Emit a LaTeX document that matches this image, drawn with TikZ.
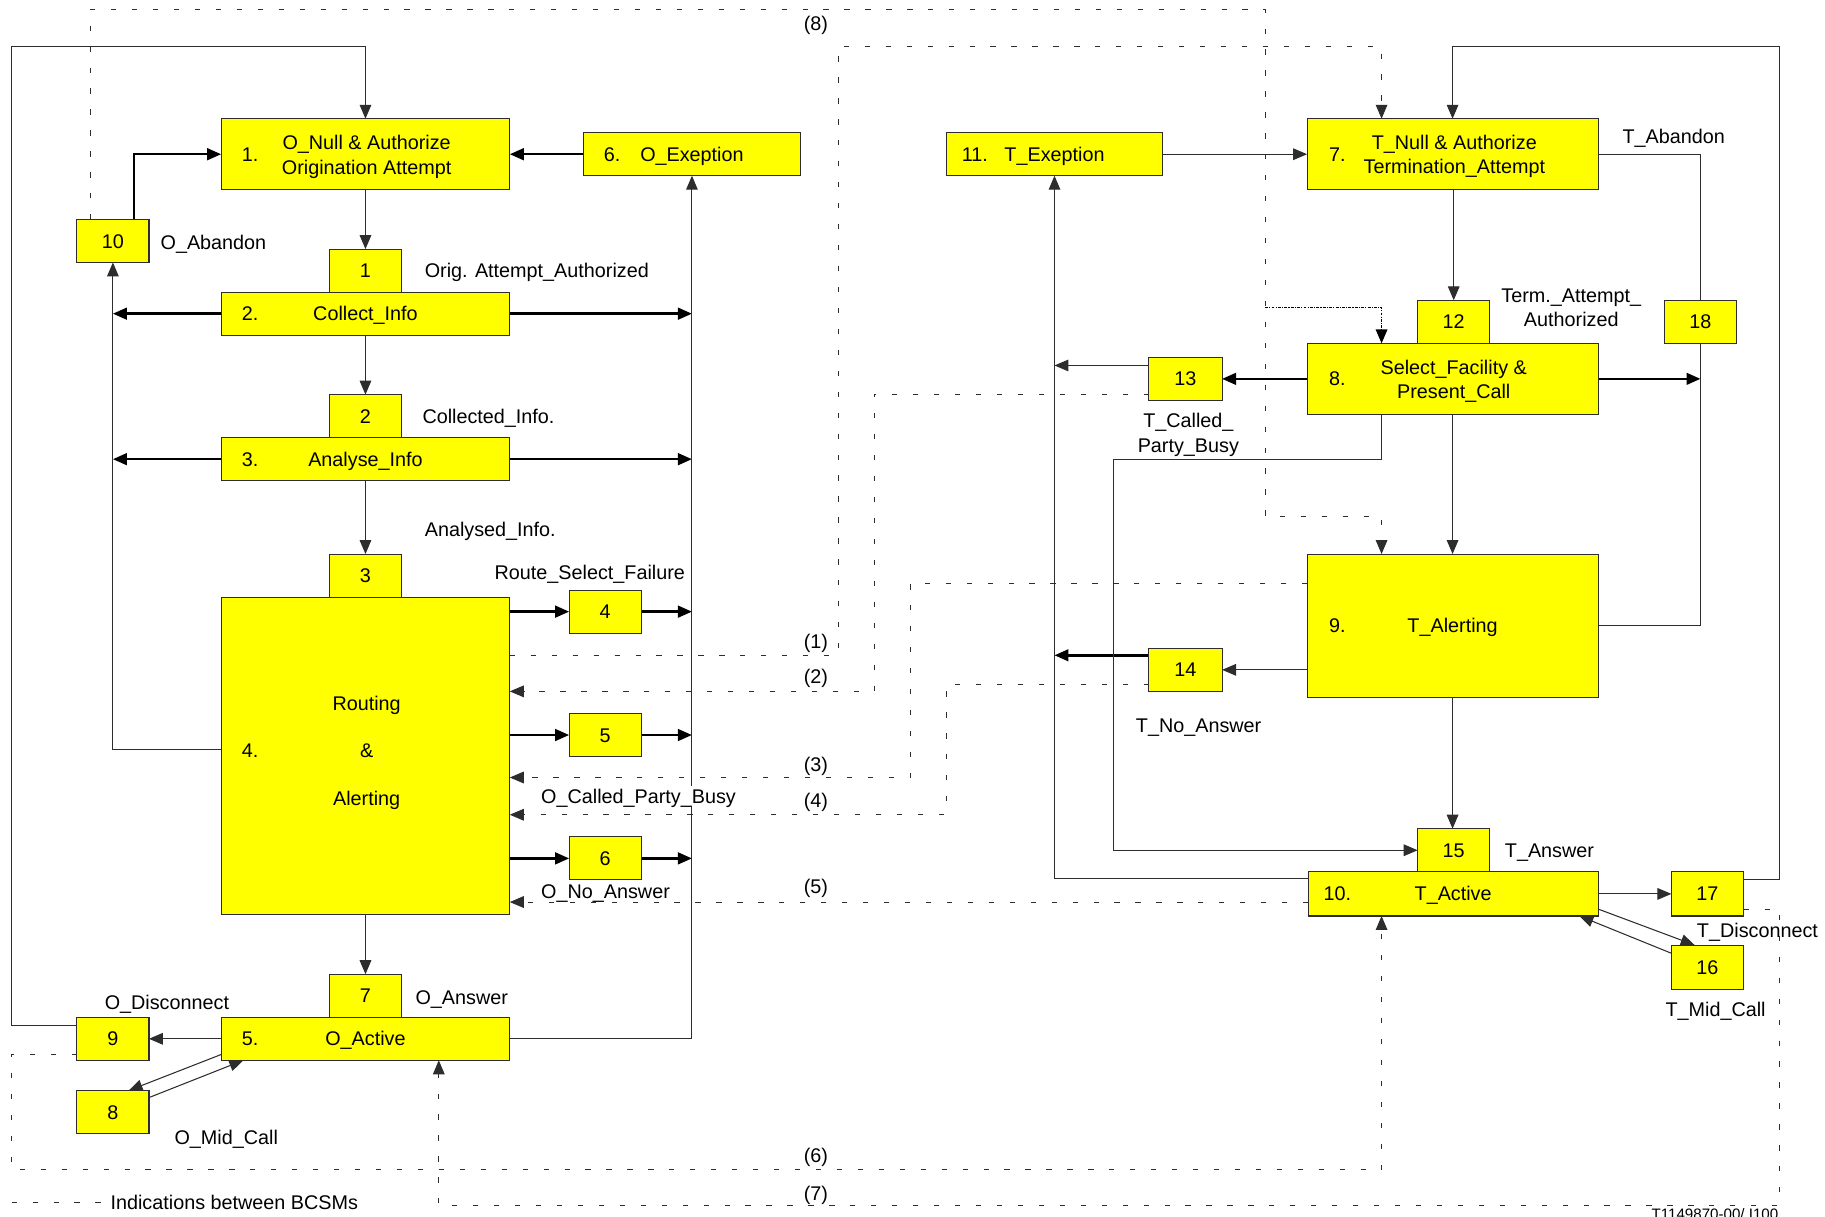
\documentclass[tikz,border=0pt]{standalone}
\usepackage{fontspec}
\setmainfont{Liberation Sans}
\usetikzlibrary{arrows.meta,backgrounds}
\definecolor{byel}{RGB}{255,255,0}
\definecolor{lgr}{RGB}{45,45,45}
\begin{document}
\begin{tikzpicture}[x=1pt,y=-1pt,
 every node/.style={font=\fontsize{17}{21}\selectfont,inner sep=0pt,outer sep=0pt},
 st/.style={text height=12.2pt,text depth=0pt},
 ybox/.style={draw=lgr,line width=0.9pt,fill=byel},
 big/.style={ybox,minimum width=248pt},
 rbig/.style={ybox,minimum width=250pt},
 sb/.style={ybox,st,minimum width=62pt,minimum height=37pt},
 conn/.style={draw=lgr,line width=0.9pt},
 heavy/.style={draw=black,line width=2.1pt},
 arr/.style={-{Triangle[length=12pt,width=10pt]}},
 dsh/.style={draw=lgr,line width=0.8pt,dash pattern=on 4.5pt off 13.5pt},
 ddot/.style={draw=black,line width=1.1pt,dash pattern=on 2.5pt off 1pt on 1pt off 1pt},
 lbl/.style={st,anchor=west},
]
\useasboundingbox (0,0) rectangle (1568,1045);

% ---------- O-BCSM ----------
\node[big,minimum height=61pt] (onull) at (314,132.5) {};
\node[align=center] (onullT) at (315,134.7) {O\_Null \& Authorize\\Origination Attempt};
\node[st] (onullN) at (215,132.5) {1.};
\node[ybox,st,minimum width=187pt,minimum height=37pt] (oexc) at (594.5,132.5) {O\_Exeption};
\node[st] (oexcN) at (526,132.5) {6.};
\node[sb] (b10) at (97,207) {10};
\node[sb] (s1) at (314,232.5) {1};
\node[big,st,minimum height=37pt] (collect) at (314,269.5) {Collect\_Info};
\node[st] (collectN) at (215,269.5) {2.};
\node[sb] (s2) at (314,357.5) {2};
\node[big,st,minimum height=37pt] (analyse) at (314,394.5) {Analyse\_Info};
\node[st] (analyseN) at (215,394.5) {3.};
\node[sb] (s3) at (314,494.5) {3};
\node[big,minimum height=273pt] (routing) at (314,649.5) {};
\node[st] (routingN) at (215,645) {4.};
\node[st] (routingA) at (315,604) {Routing};
\node[st] (routingB) at (315,645) {\&};
\node[st] (routingC) at (315,686) {Alerting};
\node[sb] (b4) at (520,525.5) {4};
\node[sb] (b5) at (520,631.5) {5};
\node[sb] (b6) at (520,737.5) {6};
\node[sb] (s7) at (314,855.5) {7};
\node[big,st,minimum height=37pt] (oactive) at (314,892.5) {O\_Active};
\node[st] (oactiveN) at (215,892.5) {5.};
\node[sb] (b9) at (97,892.5) {9};
\node[sb] (b8) at (97,955.5) {8};

% ---------- T-BCSM ----------
\node[ybox,st,minimum width=186pt,minimum height=37pt] (texc) at (906,132.5) {T\_Exeption};
\node[st] (texcN) at (837.5,132.5) {11.};
\node[rbig,minimum height=61pt] (tnull) at (1248,132.5) {};
\node[align=center] (tnullT) at (1249.5,134.5) {T\_Null \& Authorize\\Termination\_Attempt};
\node[st] (tnullN) at (1149,132.5) {7.};
\node[sb] (b12) at (1249,276.5) {12};
\node[sb] (b18) at (1461,276.5) {18};
\node[rbig,minimum height=61pt] (select) at (1248,325.5) {};
\node[align=center] (selectT) at (1249,327.5) {Select\_Facility \&\\Present\_Call};
\node[st] (selectN) at (1149,325.5) {8.};
\node[sb,minimum width=63pt] (b13) at (1018.5,325.5) {13};
\node[rbig,st,minimum height=123pt] (talert) at (1248,537.5) {T\_Alerting};
\node[st] (talertN) at (1149,537.5) {9.};
\node[sb,minimum width=63pt] (b14) at (1018.5,575.5) {14};
\node[sb] (b15) at (1249,730.5) {15};
\node[ybox,st,minimum width=249pt,minimum height=38pt] (tactive) at (1248.5,768) {T\_Active};
\node[st] (tactiveN) at (1149,768) {10.};
\node[sb,minimum height=38pt] (b17) at (1467,768) {17};
\node[sb,minimum height=38pt] (b16) at (1467,831) {16};

% ---------- labels ----------
\node[lbl] (lOAb) at (138,208) {O\_Abandon};
\node[lbl] (lOrig) at (365,232) {Orig. Attempt\_Authorized};
\node[lbl] (lColl) at (363,357.5) {Collected\_Info.};
\node[lbl] (lAnal) at (365,455) {Analysed\_Info.};
\node[lbl] (lRSF) at (425,492) {Route\_Select\_Failure};
\node[lbl,fill=white,inner ysep=3pt] (lOCPB) at (465,684) {O\_Called\_Party\_Busy};
\node[lbl] (lONA) at (465,766) {O\_No\_Answer};
\node[lbl] (lOAns) at (357,857) {O\_Answer};
\node[lbl] (lODis) at (90,861) {O\_Disconnect};
\node[lbl] (lOMid) at (150,977) {O\_Mid\_Call};
\node[lbl] (legend) at (95,1033) {Indications between BCSMs};
\node[lbl] (lTAb) at (1394,117) {T\_Abandon};
\node[align=center] (lTerm) at (1350,264.2) {Term.\_Attempt\_\\Authorized};
\node[align=center] (lTCPB) at (1021,373.7) {T\_Called\_\\Party\_Busy};
\node[lbl] (lTNA) at (976,623) {T\_No\_Answer};
\node[lbl] (lTAns) at (1293,730.5) {T\_Answer};
\node[lbl] (lTDis) at (1458,799.5) {T\_Disconnect};
\node[lbl] (lTMid) at (1431,867) {T\_Mid\_Call};
\node[st] (n8) at (701,20) {(8)};
\node[st] (n1) at (701,551) {(1)};
\node[st] (n2) at (701,581.5) {(2)};
\node[st] (n3) at (701,657) {(3)};
\node[st] (n4) at (701,687.5) {(4)};
\node[st] (n5) at (701,761.5) {(5)};
\node[st] (n6) at (701,993) {(6)};
\node[st] (n7) at (701,1025) {(7)};
\node[anchor=base west,font=\fontsize{13}{13}\selectfont] (fignum) at (1419,1048) {T1149870-00/ I100};

\coordinate (lbus) at (97,0);
\coordinate (rbus) at (594.5,0);
\coordinate (tbus) at (906,0);
\coordinate (lgA) at (10,1033);

\begin{pgfonlayer}{background}
\fill[white] (0,0) rectangle (1568,1045);
% O-BCSM solid
\draw[conn,arr] (b9.west |- 0,881) -- (10,881) -- (10,40) -- (onull.north |- 0,40) -- (onull.north);
\draw[heavy,arr] (b10.north -| 115,0) |- (onull.west);
\draw[heavy,arr] (oexc.west) -- (onull.east);
\draw[conn,arr] (onull.south) -- (s1.north);
\draw[conn,arr] (collect.south) -- (s2.north);
\draw[conn,arr] (analyse.south) -- (s3.north);
\draw[conn,arr] (routing.south) -- (s7.north);
\draw[heavy,arr] (collect.west) -- (collect.west -| lbus);
\draw[heavy,arr] (collect.east) -- (collect.east -| rbus);
\draw[heavy,arr] (analyse.west) -- (analyse.west -| lbus);
\draw[heavy,arr] (analyse.east) -- (analyse.east -| rbus);
\draw[conn,arr] (routing.west |- 0,644) -| (b10.south);
\draw[conn,arr] (oactive.east) -| (oexc.south);
\draw[heavy,arr] (routing.east |- b4.west) -- (b4.west);
\draw[heavy,arr] (b4.east) -- (b4.east -| rbus);
\draw[heavy,arr] (routing.east |- b5.west) -- (b5.west);
\draw[heavy,arr] (b5.east) -- (b5.east -| rbus);
\draw[heavy,arr] (routing.east |- b6.west) -- (b6.west);
\draw[heavy,arr] (b6.east) -- (b6.east -| rbus);
\draw[conn,arr] (oactive.west) -- (b9.east);
\draw[conn,arr] (oactive.west |- 0,906) -- (b8.north -| 110.5,0);
\draw[conn,arr] (b8.east |- 0,943) -- (oactive.south -| 209,0);
% T-BCSM solid
\draw[conn,arr] (texc.east) -- (tnull.west);
\draw[conn,arr] (b17.east |- 0,756) -- (1529,756) -- (1529,40) -- (tnull.north |- 0,40) -- (tnull.north);
\draw[conn] (tnull.east) -| (b18.north);
\draw[conn] (b18.south) |- (talert.east);
\draw[heavy,arr] (select.east) -- (select.east -| b18.center);
\draw[conn,arr] (b12.north |- tnull.south) -- (b12.north);
\draw[conn,arr] (select.south) -- (talert.north);
\draw[heavy,arr] (select.west) -- (b13.east);
\draw[conn,arr] (b13.west |- 0,314) -- (tbus |- 0,314);
\draw[conn,arr] (tactive.west |- 0,755) -| (texc.south);
\draw[conn,arr] (talert.west |- b14.east) -- (b14.east);
\draw[heavy,arr] (b14.west |- 0,563) -- (tbus |- 0,563);
\draw[conn,arr] (select.south -| 1187,0) -- (1187,395) -- (957,395) |- (b15.west);
\draw[conn,arr] (talert.south) -- (b15.north -| talert.south);
\draw[conn,arr] (tactive.east |- b17.west) -- (b17.west);
\draw[conn,arr] (tactive.east |- 0,781) -- (b16.north -| 1456,0);
\draw[conn,arr] (b16.west |- 0,819) -- (tactive.south -| 1357,0);
% indications between BCSMs
\draw[dsh,arr] (b10.north -| 78,0) |- (1087,8) |- (1187,444) -- (talert.north -| 1187,0);
\draw[ddot,arr] (1087,264) -| (select.north -| 1187,0);
\draw[dsh,arr] (routing.east |- 0,563) -| (720,40) -| (tnull.north -| 1187,0);
\draw[dsh,arr] (b13.west |- 0,339) -| (751,594) -- (routing.east |- 0,594);
\draw[dsh,arr] (talert.west |- 0,501) -| (782,668) -- (routing.east |- 0,668);
\draw[dsh,arr] (b14.west |- 0,588) -| (813,700) -- (routing.east |- 0,700);
\draw[dsh,arr] (tactive.west |- 0,775) -- (routing.east |- 0,775);
\draw[dsh,arr] (b9.west |- 0,906) -| (10,1005) -| (tactive.south -| 1187,0);
\draw[dsh,arr] (b17.east |- 0,781) -| (1529,1036) -| (oactive.south -| 377,0);
\draw[dsh] (lgA) -- ([xshift=-7pt]legend.west);
\end{pgfonlayer}
\end{tikzpicture}
\end{document}
